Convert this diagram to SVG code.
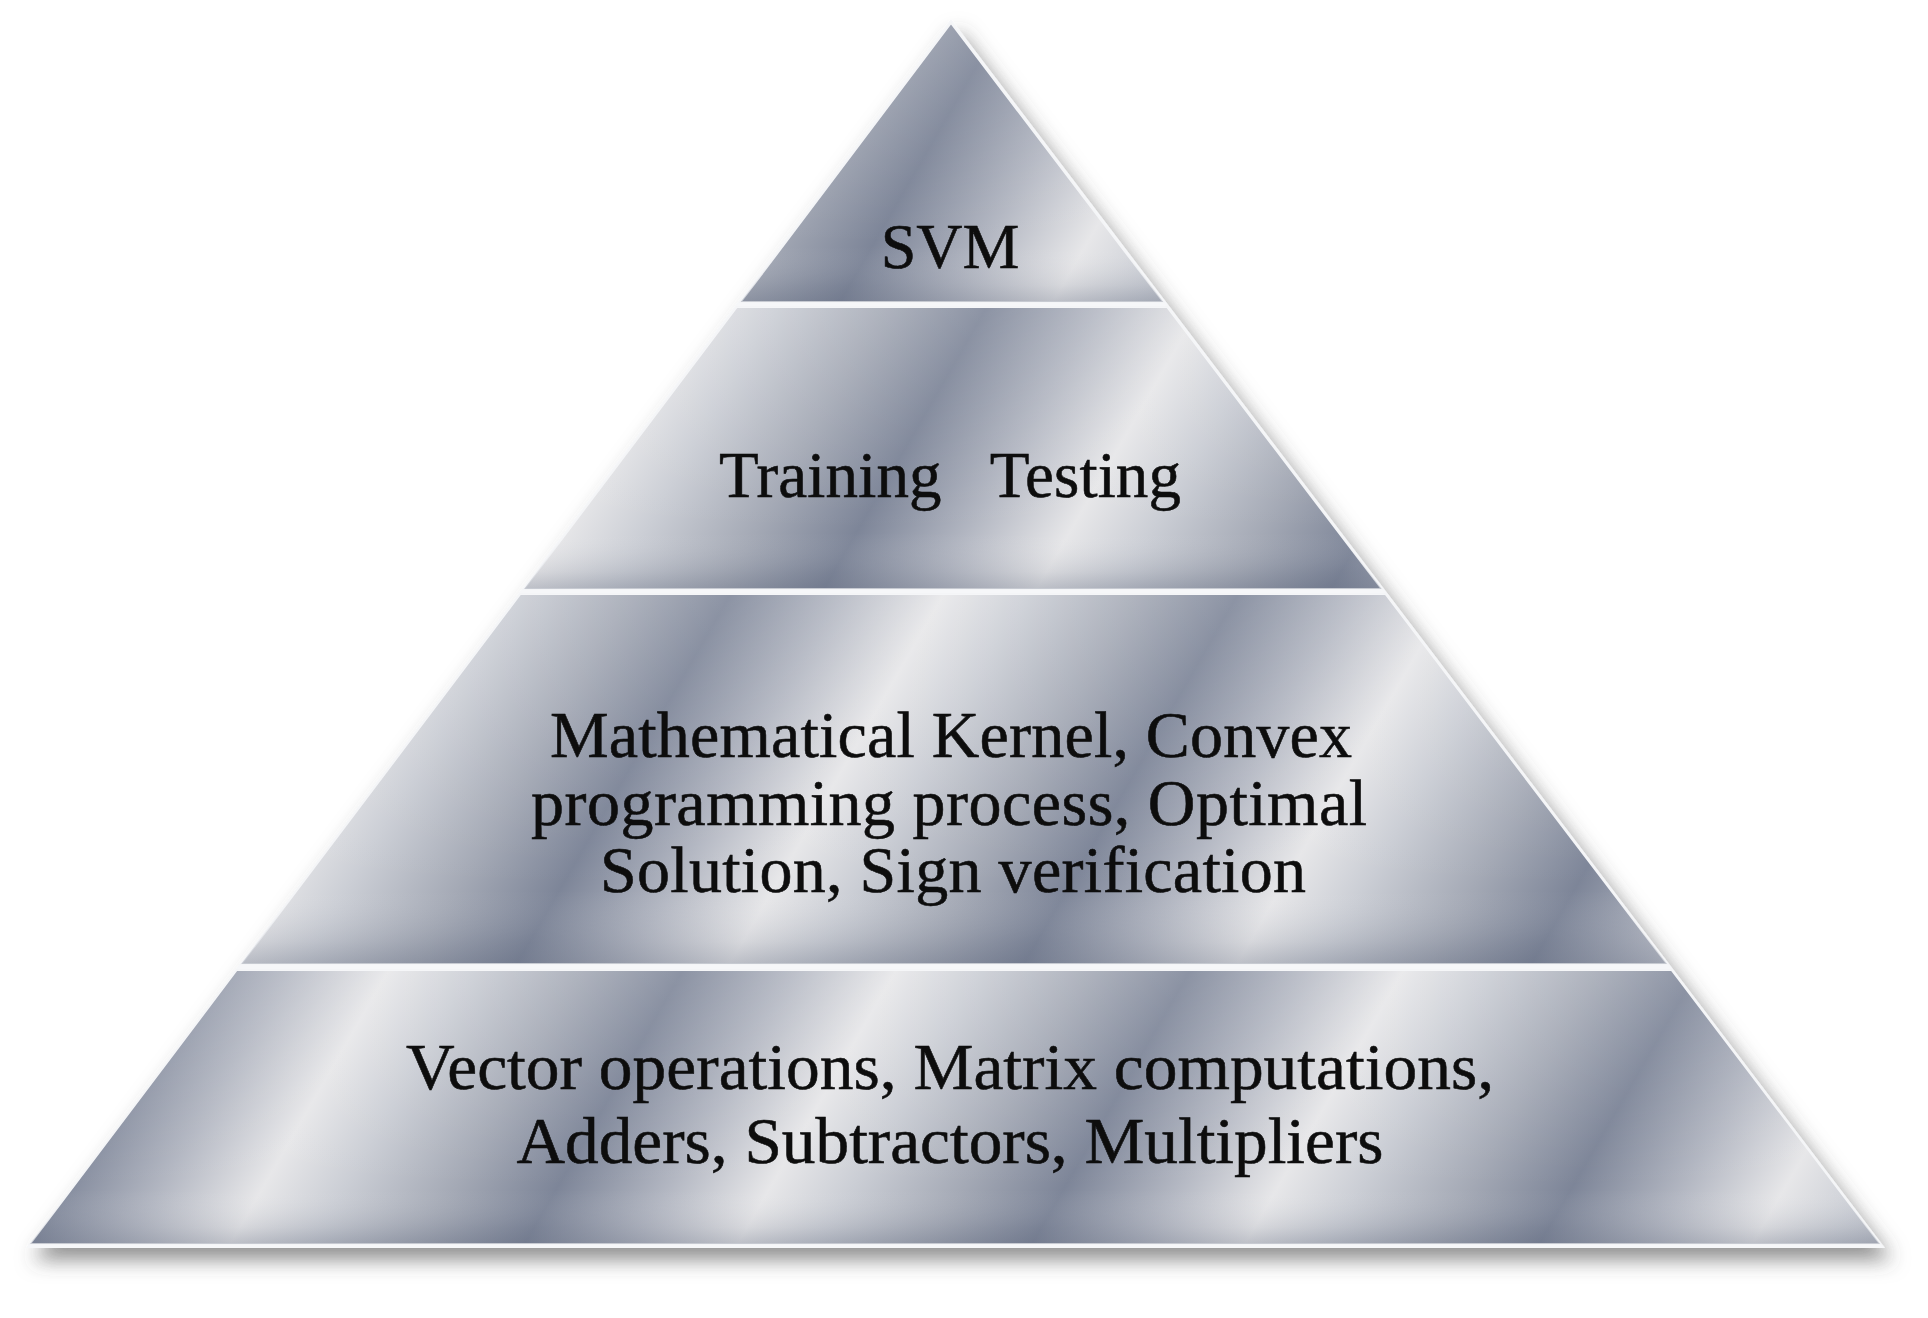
<svg xmlns="http://www.w3.org/2000/svg" width="1928" height="1318" viewBox="0 0 1928 1318">
  <style>
    .band { stroke: #f4f5f7; stroke-width: 2; stroke-linejoin: miter; }
    .shade { stroke: none; }
    .lbl { font-family: "Liberation Serif", "Times New Roman", serif; fill: #0a0a0a; stroke: #0a0a0a; stroke-width: 0.5; text-anchor: middle; }
  </style>
  <defs>
    <filter id="shadow" x="-5%" y="-5%" width="112%" height="115%">
      <feDropShadow dx="7" dy="12" stdDeviation="10" flood-color="#4a4a4a" flood-opacity="0.6"/>
    </filter>
    <filter id="txt" x="-5%" y="-20%" width="110%" height="140%">
      <feGaussianBlur in="SourceGraphic" stdDeviation="0.5"/>
    </filter>
    <linearGradient id="metal1" gradientUnits="userSpaceOnUse" x1="0" y1="0" x2="380" y2="220" spreadMethod="repeat">
      <stop offset="0" stop-color="#7d8598"/>
      <stop offset="0.22" stop-color="#b3b7c2"/>
      <stop offset="0.42" stop-color="#e7e7e9"/>
      <stop offset="0.58" stop-color="#cbced5"/>
      <stop offset="0.8" stop-color="#a4a9b5"/>
      <stop offset="1" stop-color="#7d8598"/>
    </linearGradient>
    <linearGradient id="metal2" href="#metal1" gradientTransform="translate(150 0)"/>
    <linearGradient id="metal3" href="#metal1" gradientTransform="translate(60 0)"/>
    <linearGradient id="metal4" href="#metal1" gradientTransform="translate(230 0)"/>
    <linearGradient id="vshade" x1="0" y1="0" x2="0" y2="1">
      <stop offset="0" stop-color="#ffffff" stop-opacity="0.12"/>
      <stop offset="0.8" stop-color="#ffffff" stop-opacity="0"/>
      <stop offset="0.94" stop-color="#5a6378" stop-opacity="0.12"/>
      <stop offset="1" stop-color="#5a6378" stop-opacity="0.3"/>
    </linearGradient>
  </defs>

  <polygon points="951,19 26,1248 1885,1248" fill="#f6f7f9" filter="url(#shadow)"/>

  <g id="layer-svm">
    <polygon class="band" points="951,23 740.6,302 1163.3,302" fill="url(#metal1)"/>
    <polygon class="shade" points="951,23 740.6,302 1163.3,302" fill="url(#vshade)"/>
    <text class="lbl" x="950" y="268" font-size="64" filter="url(#txt)">SVM</text>
  </g>

  <g id="layer-training">
    <polygon class="band" points="736.8,307 1167.1,307 1381.7,589 524.1,589" fill="url(#metal2)"/>
    <polygon class="shade" points="736.8,307 1167.1,307 1381.7,589 524.1,589" fill="url(#vshade)"/>
    <text class="lbl" x="950" y="497" font-size="65" filter="url(#txt)" xml:space="preserve" textLength="462">Training   Testing</text>
  </g>

  <g id="layer-kernel">
    <polygon class="band" points="520.3,594 1385.5,594 1667,964 241.2,964" fill="url(#metal3)"/>
    <polygon class="shade" points="520.3,594 1385.5,594 1667,964 241.2,964" fill="url(#vshade)"/>
    <g filter="url(#txt)">
      <text class="lbl" x="951" y="757" font-size="66" textLength="802">Mathematical Kernel, Convex</text>
      <text class="lbl" x="949" y="825" font-size="66" textLength="836">programming process, Optimal</text>
      <text class="lbl" x="953" y="892" font-size="66" textLength="706">Solution, Sign verification</text>
    </g>
  </g>

  <g id="layer-vector">
    <polygon class="band" points="236.7,970 1671.6,970 1880,1244 30,1244" fill="url(#metal4)"/>
    <polygon class="shade" points="236.7,970 1671.6,970 1880,1244 30,1244" fill="url(#vshade)"/>
    <g filter="url(#txt)">
      <text class="lbl" x="950" y="1089" font-size="65" textLength="1088" lengthAdjust="spacingAndGlyphs">Vector operations, Matrix computations,</text>
      <text class="lbl" x="950" y="1163" font-size="65" textLength="867" lengthAdjust="spacingAndGlyphs">Adders, Subtractors, Multipliers</text>
    </g>
  </g>

  <g id="connectors"/>
</svg>
